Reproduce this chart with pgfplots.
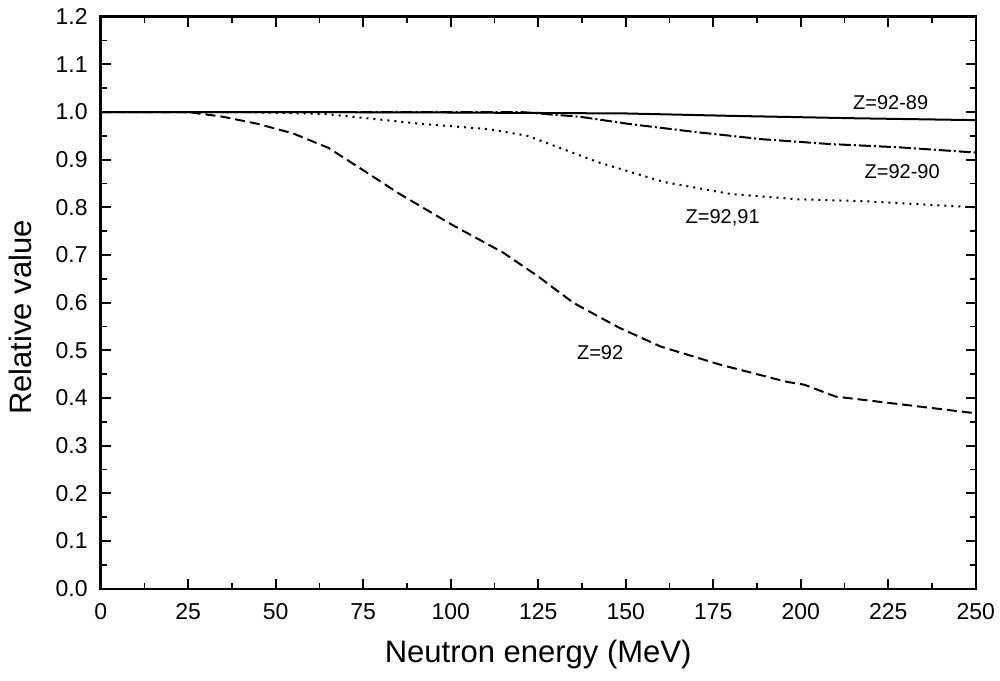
\documentclass[border=0pt]{standalone}
\usepackage{fontspec}
\setmainfont{Liberation Sans}
\usepackage{pgfplots}
\pgfplotsset{compat=1.18}

\begin{document}
\begin{tikzpicture}
\begin{axis}[
    scale only axis,
    width=437.5pt,
    height=286pt,
    xmin=0, xmax=250,
    ymin=0, ymax=1.2,
    xtick={0,25,...,250},
    ytick={0,0.1,...,1.2},
    minor x tick num=1,
    minor y tick num=1,
    tick align=inside,
    major tick length=5pt,
    minor tick length=3pt,
    axis line style={line width=1.2pt},
    every tick/.style={line width=0.9pt, black},
    /pgf/number format/assume math mode=true,
    /pgf/number format/.cd, fixed, fixed zerofill, precision=1, /pgfplots/.cd,
    xticklabel={\pgfmathprintnumber[fixed,precision=0]{\tick}},
    tick label style={font=\fontsize{11.5}{13}\selectfont},
    xticklabel style={yshift=-4pt},
    yticklabel style={xshift=-3pt},
    xlabel={Neutron energy (MeV)},
    ylabel={Relative value},
    label style={font=\fontsize{15.5}{18}\selectfont},
    xlabel style={at={(axis description cs:0.5,-0.115)}, anchor=center},
    ylabel style={at={(axis description cs:-0.092,0.474)}, anchor=center},
    clip=true,
]

% Z=92-89 (solid)
\addplot[black, line width=1pt] coordinates {
    (0,1.0) (50,1.0) (100,0.999) (150,0.997) (180,0.992) (215,0.987) (250,0.983)
};

% Z=92-90 (dash-dot)
\addplot[black, line width=1pt, dash pattern=on 6pt off 1.5pt on 1pt off 1.5pt] coordinates {
    (0,1.0) (60,1.0) (120,1.0) (137,0.99) (151,0.975) (170,0.958)
    (189,0.943) (208,0.933) (228,0.926) (250,0.915)
};

% Z=92,91 (dotted)
\addplot[black, line width=1pt, dash pattern=on 1pt off 2.5pt] coordinates {
    (0,1.0) (40,1.0) (64,0.996) (92,0.975) (111,0.964) (122,0.95)
    (142,0.895) (161,0.853) (180,0.828) (199,0.817) (218,0.813) (250,0.80)
};

% Z=92 (dashed)
\addplot[black, line width=1pt, dash pattern=on 5pt off 2.5pt] coordinates {
    (0,1.0) (25,1.0) (35,0.99) (45,0.975) (55,0.955) (65,0.925)
    (75,0.878) (85,0.83) (100,0.765) (115,0.705) (125,0.655) (135,0.6)
    (148,0.548) (160,0.508) (177,0.47) (196,0.434) (201,0.428) (210,0.403)
    (225,0.39) (250,0.368)
};

\node[font=\fontsize{10}{12}\selectfont] at (axis cs:225.7,1.019) {Z=92-89};
\node[font=\fontsize{10}{12}\selectfont] at (axis cs:229,0.876) {Z=92-90};
\node[font=\fontsize{10}{12}\selectfont] at (axis cs:177.7,0.779) {Z=92,91};
\node[font=\fontsize{10}{12}\selectfont] at (axis cs:142.7,0.495) {Z=92};
\end{axis}
\pgfresetboundingbox
\path[use as bounding box] ([shift={(-50.35pt,-46pt)}]current axis.south west)
    rectangle ([shift={(12.15pt,8.35pt)}]current axis.north east);
\end{tikzpicture}
\end{document}
